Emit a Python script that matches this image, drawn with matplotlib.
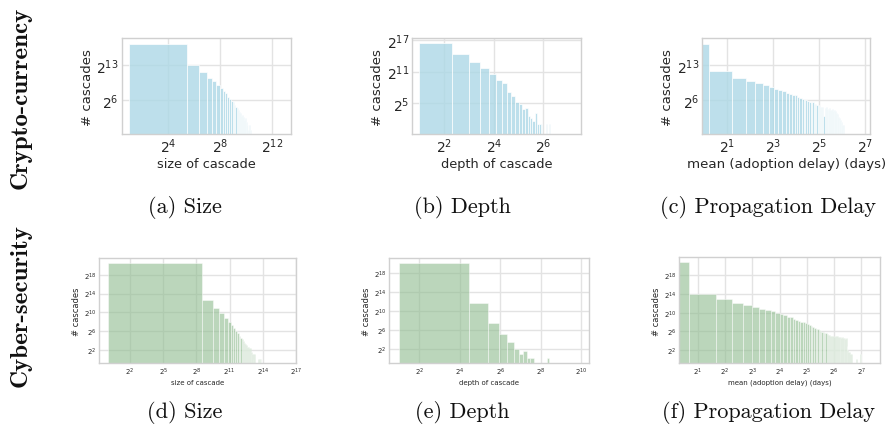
import numpy as np
import matplotlib
matplotlib.use("Agg")
import matplotlib.pyplot as plt
from matplotlib.ticker import FixedLocator, FuncFormatter, NullLocator

# ---------------- data (histogram bins: start, width, counts) ----------------
# Crypto-currency
crypto_size_start, crypto_size_width = 2, 41
crypto_size_counts = [150000, 8200, 2900, 1350, 830, 480, 315, 208, 158, 97, 74, 56,
                      45, 32, 24, 20, 16, 12, 10, 7, 8, 6, 4, 5, 3, 3, 2, 3, 1, 2, 1, 1]

crypto_depth_start, crypto_depth_width = 2, 3
crypto_depth_counts = [86500, 20200, 6900, 3100, 1420, 720, 480, 147, 90, 39, 31, 15,
                       18, 6, 5, 3, 9, 2, 2, 2, 0, 0, 2, 0, 2, 0, 0, 0, 0, 0, 0, 0,
                       0, 0, 0, 0, 0, 0, 0, 0, 0, 0, 0, 0, 0, 0, 1, 0, 0, 1]

crypto_delay_start, crypto_delay_width = 0, 1.17
crypto_delay_counts = [150000, 3300, 1350, 890, 630, 480, 360, 294, 256, 208, 158, 147,
                       128, 119, 97, 84, 74, 64, 64, 56, 45, 39, 49, 37, 34, 30, 30,
                       26, 24, 23, 23, 7, 21, 23, 18, 16, 15, 20, 16, 15, 17, 14, 12,
                       15, 13, 11, 7, 9, 6, 4, 5, 4, 3, 3, 2, 1, 2]

# Cyber-security
cyber_size_start, cyber_size_width = 1, 362
cyber_size_counts = [1500000, 6200, 1900, 890, 415, 256, 158, 97, 64, 45, 32, 24, 21,
                     15, 11, 9, 8, 6, 6, 5, 5, 2, 3, 2, 1, 2, 2, 0, 0, 0, 0, 0, 0,
                     1, 1, 1, 1, 1, 1, 1, 1]

cyber_depth_start, cyber_depth_width = 2, 19.8
cyber_depth_counts = [1050000, 3300, 180, 37, 11, 4, 2, 3, 1, 1, 0, 0, 0, 0, 0, 0, 1,
                      0, 0, 0, 0, 0, 0, 0, 0, 0, 0, 0, 0, 0, 0, 0, 0, 0, 0, 0, 0, 0,
                      0, 0, 0, 0, 0, 0, 0, 0, 0, 0, 0, 1]

cyber_delay_start, cyber_delay_width = 0, 1.6
cyber_delay_counts = [1830000, 17600, 7600, 4100, 3100, 2350, 1780, 1450, 1260, 955,
                      776, 675, 549, 512, 415, 338, 294, 256, 239, 208, 181, 158, 137,
                      119, 104, 91, 84, 74, 69, 60, 56, 49, 49, 42, 37, 34, 32, 30,
                      30, 30, 28, 30, 30, 30, 28, 28, 30, 26, 24, 26, 24, 23, 24, 21,
                      22, 7, 4, 3, 0, 3, 2, 0, 2, 0, 2, 0, 2, 0, 0, 0, 1, 0, 0, 0,
                      0, 0, 0, 2, 2, 2]

# tick exponents (base 2)
a_xt, a_yt = [4, 8, 12], [6, 13]
b_xt, b_yt = [2, 4, 6], [5, 11, 17]
c_xt, c_yt = [1, 3, 5, 7], [6, 13]
d_xt, d_yt = [2, 5, 8, 11, 14, 17], [2, 6, 10, 14, 18]
e_xt, e_yt = [2, 4, 6, 8, 10], [2, 6, 10, 14, 18]
f_xt, f_yt = [1, 2, 3, 4, 5, 6, 7], [2, 6, 10, 14, 18]

xlabels = ["size of cascade", "depth of cascade", "mean (adoption delay) (days)"]
ylabel = "# cascades"
captions = ["(a) Size", "(b) Depth", "(c) Propagation Delay",
            "(d) Size", "(e) Depth", "(f) Propagation Delay"]
row_labels = ["Crypto-currency", "Cyber-security"]

# ---------------- figure ----------------
W, H = 891, 431
fig = plt.figure(figsize=(W / 100, H / 100), dpi=100)


def add_ax(x0, y0, x1, y1):
    return fig.add_axes([x0 / W, 1 - y1 / H, (x1 - x0) / W, (y1 - y0) / H])


fmt = FuncFormatter(lambda v, p: r"$\mathdefault{2^{%d}}$" % round(np.log2(v)))


def panel(ax, start, width, counts, color, alpha, xlim, ylim, xt, yt,
          xlabel, tick_fs, xl_fs, yl_fs, lw):
    counts = np.asarray(counts, dtype=float)
    lefts = start + width * np.arange(len(counts))
    m = counts > 0
    ax.set_xscale("log", base=2)
    ax.set_yscale("log", base=2)
    ax.bar(lefts[m], counts[m], width=width, align="edge", bottom=2.0 ** -4,
           color=color, alpha=alpha, edgecolor="white", linewidth=lw, zorder=2)
    ax.set_xlim(2.0 ** xlim[0], 2.0 ** xlim[1])
    ax.set_ylim(2.0 ** ylim[0], 2.0 ** ylim[1])
    ax.xaxis.set_major_locator(FixedLocator([2.0 ** t for t in xt]))
    ax.yaxis.set_major_locator(FixedLocator([2.0 ** t for t in yt]))
    ax.xaxis.set_minor_locator(NullLocator())
    ax.yaxis.set_minor_locator(NullLocator())
    ax.xaxis.set_major_formatter(fmt)
    ax.yaxis.set_major_formatter(fmt)
    ax.grid(True, color="#e3e3e3", linewidth=1.0, zorder=0)
    ax.set_axisbelow(True)
    for s in ax.spines.values():
        s.set_color("#d0d0d0")
        s.set_linewidth(1.0)
    ax.tick_params(length=0, labelsize=tick_fs, colors="#262626", pad=2)
    ax.set_xlabel(xlabel, fontsize=xl_fs, color="#262626", labelpad=1)
    ax.set_ylabel(ylabel, fontsize=yl_fs, color="#262626", labelpad=2)


blue = "lightblue"
green = "darkseagreen"

axa = add_ax(121.7, 39.3, 291, 135)
panel(axa, crypto_size_start, crypto_size_width, crypto_size_counts, blue, 0.8,
      (0.42, 13.44), (-0.8, 18.3), a_xt, a_yt, xlabels[0], 10, 9.3, 9.5, 0.6)
axb = add_ax(412.3, 39.3, 580.7, 135)
panel(axb, crypto_depth_start, crypto_depth_width, crypto_depth_counts, blue, 0.8,
      (0.71, 7.5), (-0.77, 17.3), b_xt, b_yt, xlabels[1], 10, 9.3, 9.5, 0.6)
axc = add_ax(702.3, 39.3, 870, 135)
panel(axc, crypto_delay_start, crypto_delay_width, crypto_delay_counts, blue, 0.8,
      (-0.08, 7.2), (-0.8, 18.3), c_xt, c_yt, xlabels[2], 10, 9.6, 9.5, 0.6)

axd = add_ax(99.3, 259, 296, 364.3)
panel(axd, cyber_size_start, cyber_size_width, cyber_size_counts, green, 0.6,
      (-0.77, 17.0), (-0.9, 21.6), d_xt, d_yt, xlabels[0], 5, 5, 6, 0.5)
axe = add_ax(389.3, 259, 589.3, 364.3)
panel(axe, cyber_depth_start, cyber_depth_width, cyber_depth_counts, green, 0.6,
      (0.52, 10.4), (-0.92, 21.07), e_xt, e_yt, xlabels[1], 5, 5, 6, 0.5)
axf = add_ax(679.3, 258.3, 880, 364.3)
panel(axf, cyber_delay_start, cyber_delay_width, cyber_delay_counts, green, 0.6,
      (0.33, 7.68), (-0.9, 21.9), f_xt, f_yt, xlabels[2], 5, 5, 6, 0.5)

# captions
cap_x = [185, 462, 768]
for i, cap in enumerate(captions):
    y = 208 if i < 3 else 413
    fig.text(cap_x[i % 3] / W, 1 - y / H, cap, ha="center", va="center",
             fontsize=16, family="cmr10", color="#111111")

# row labels
fig.text(21 / W, 1 - 98 / H, row_labels[0], rotation=90, ha="center", va="center",
         fontsize=18, family="cmb10", color="#111111")
fig.text(21 / W, 1 - 306 / H, row_labels[1], rotation=90, ha="center", va="center",
         fontsize=18, family="cmb10", color="#111111")

fig.savefig("out.png", dpi=100)
